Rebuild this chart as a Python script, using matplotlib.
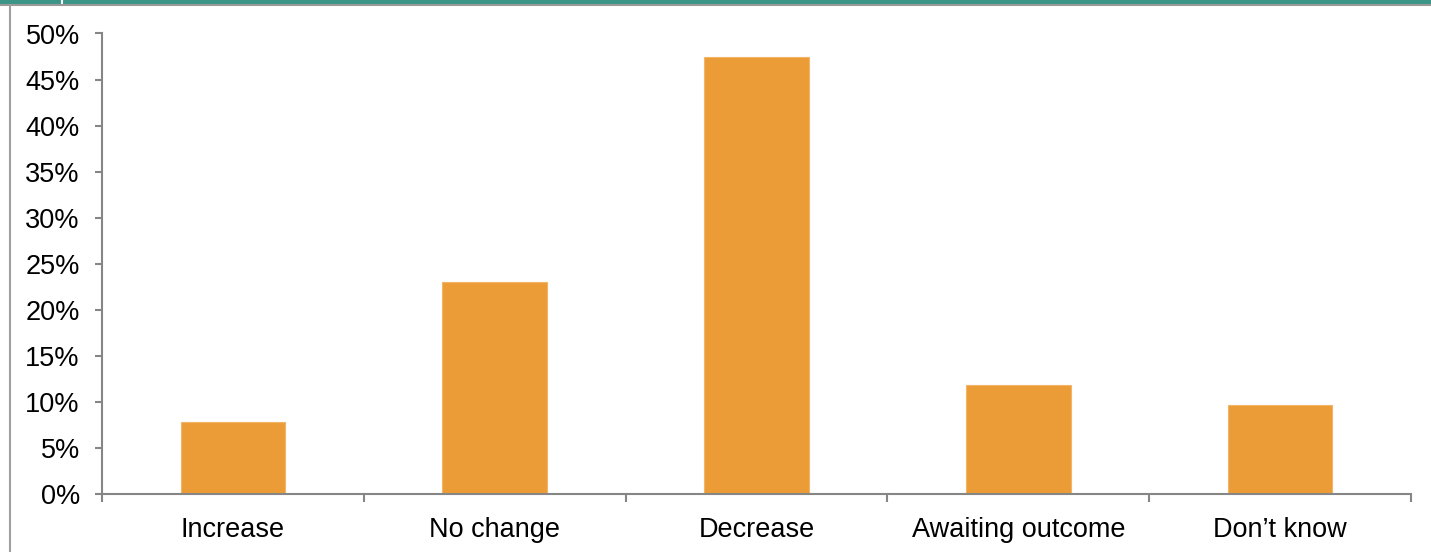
import matplotlib
matplotlib.use("Agg")
import matplotlib.pyplot as plt
from matplotlib.patches import Rectangle
from matplotlib.lines import Line2D
from matplotlib.ticker import FixedLocator, PercentFormatter

categories = ["Increase", "No change", "Decrease", "Awaiting outcome", "Don\u2019t know"]
shares = [7.8, 23.0, 47.5, 11.9, 9.7]
y_ticks = [0, 5, 10, 15, 20, 25, 30, 35, 40, 45, 50]

plt.rcParams["font.family"] = ["Liberation Sans", "DejaVu Sans"]

W, H = 1431, 552
fig = plt.figure(figsize=(W / 100, H / 100), dpi=100)
fig.patch.set_facecolor("white")

# header band and frame lines
fig.add_artist(Rectangle((0, 1 - 4 / H), 1, 4 / H, transform=fig.transFigure,
                         facecolor="#3B9688", edgecolor="none", zorder=1))
fig.add_artist(Line2D([62 / W, 62 / W], [1 - 4 / H, 1], transform=fig.transFigure,
                      color="white", lw=1.5, zorder=2))
fig.add_artist(Line2D([0, 1], [1 - 4.5 / H, 1 - 4.5 / H], transform=fig.transFigure,
                      color="#9a9a9a", lw=1.5))
fig.add_artist(Line2D([9.5 / W, 9.5 / W], [0, 1 - 5 / H], transform=fig.transFigure,
                      color="#a0a0a0", lw=1.5))

ax = fig.add_axes([102 / W, 1 - 494.3 / H, (1411 - 102) / W, (494.3 - 33.5) / H])
x = range(len(categories))
ax.bar(x, shares, width=0.4, color="#EC9C36", edgecolor="#F2B468", linewidth=0.8, zorder=2)

ax.set_xlim(-0.5, len(categories) - 0.5)
ax.set_ylim(0, 50)
ax.yaxis.set_major_locator(FixedLocator(y_ticks))
ax.yaxis.set_major_formatter(PercentFormatter(decimals=0))

ax.set_xticks(list(x))
ax.set_xticklabels(categories)
ax.set_xticks([i - 0.5 for i in range(len(categories) + 1)], minor=True)

for s in ["top", "right"]:
    ax.spines[s].set_visible(False)
for s in ["left", "bottom"]:
    ax.spines[s].set_color("#868686")
    ax.spines[s].set_linewidth(1.5)

ax.tick_params(axis="y", length=5, width=1.5, color="#868686", pad=11,
               labelsize=19.5, labelcolor="black")
ax.tick_params(axis="x", which="major", length=0, pad=16, labelsize=19.5, labelcolor="black")
ax.tick_params(axis="x", which="minor", length=6, width=1.5, color="#868686")

fig.savefig("out.png", dpi=100)
